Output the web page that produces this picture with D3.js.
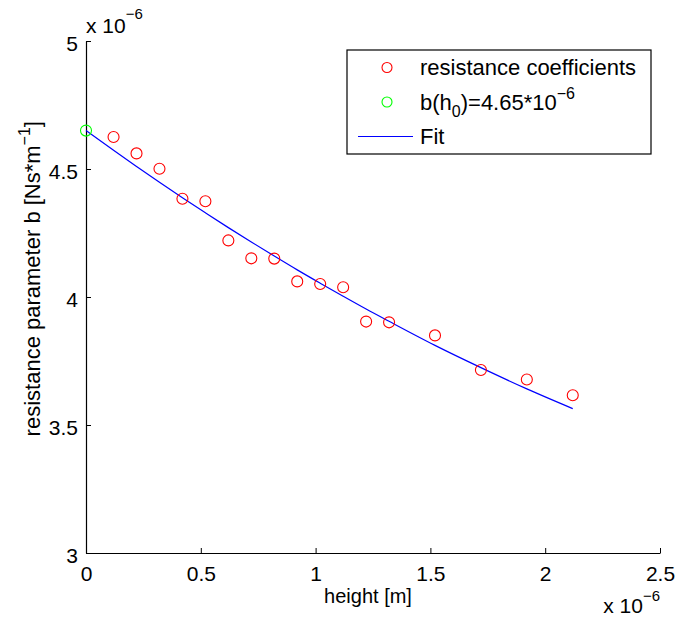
<!DOCTYPE html>
<html>
<head>
<meta charset="utf-8">
<script src="https://cdn.jsdelivr.net/npm/d3@7"></script>
<style>
  body { margin: 0; background: #fff; }
  text { font-family: "Liberation Sans", Arial, sans-serif; }
</style>
</head>
<body>
<div id="chart"></div>
<script>
// measured heights (x 10^-6 m) and resistance parameter b (x 10^-6 Ns/m)
var heights = [0.12, 0.22, 0.32, 0.42, 0.52, 0.62, 0.72, 0.82, 0.92, 1.02, 1.12, 1.22, 1.32, 1.52, 1.72, 1.92, 2.12];
var bValues = [4.625, 4.561, 4.501, 4.384, 4.374, 4.221, 4.151, 4.150, 4.061, 4.051, 4.038, 3.904, 3.901, 3.850, 3.715, 3.678, 3.616];

// b(h0) point
var h0 = [0];
var b0 = [4.65];

// fit curve
var fitX = [0, 0.12, 0.22, 0.32, 0.42, 0.52, 0.62, 0.72, 0.82, 0.92, 1.02, 1.12, 1.22, 1.32, 1.52, 1.72, 1.92, 2.12];
var fitY = [4.650, 4.573, 4.510, 4.448, 4.388, 4.329, 4.271, 4.215, 4.160, 4.106, 4.054, 4.003, 3.953, 3.905, 3.811, 3.724, 3.641, 3.564];

var xTicks = [0, 0.5, 1, 1.5, 2, 2.5];
var yTicks = [3, 3.5, 4, 4.5, 5];

var legendLabels = ["resistance coefficients", "b(h0)=4.65*10^-6", "Fit"];

// set the dimensions and margins of the graph
var margin = { top: 41, right: 16, bottom: 65, left: 86 },
    W = 676, H = 618,
    width = W - margin.left - margin.right,
    height = H - margin.top - margin.bottom;

var svg = d3.select("#chart")
    .append("svg")
    .attr("width", W)
    .attr("height", H)
    .append("g")
    .attr("transform", "translate(" + margin.left + "," + margin.top + ")");

var x = d3.scaleLinear().domain([0, 2.5]).range([0, width]);
var y = d3.scaleLinear().domain([3, 5]).range([height, 0]);

// X axis, ticks pointing inward
var xAxis = svg.append("g")
    .attr("transform", "translate(0," + height + ")")
    .call(d3.axisBottom(x).tickValues(xTicks).tickSizeInner(-5).tickSizeOuter(0).tickPadding(13)
        .tickFormat(function (d) { return d; }));

// Y axis
var yAxis = svg.append("g")
    .call(d3.axisLeft(y).tickValues(yTicks).tickSizeInner(-5).tickSizeOuter(0).tickPadding(8)
        .tickFormat(function (d) { return d; }));
yAxis.selectAll(".tick text").attr("dy", "0.46em");

[xAxis, yAxis].forEach(function (a) {
    a.select(".domain").attr("stroke", "#000").attr("stroke-width", 1.2);
    a.selectAll(".tick line").attr("stroke", "#000");
    a.selectAll(".tick text")
        .attr("fill", "#000")
        .style("font-size", "21px");
});

// exponent labels
var topExp = svg.append("text").attr("x", 0).attr("y", -8.5).style("font-size", "21px");
topExp.append("tspan").text("x 10");
topExp.append("tspan").attr("dy", -14).style("font-size", "15px").text("\u22126");

var botExp = svg.append("text").attr("x", width).attr("y", height + 60)
    .attr("text-anchor", "end").style("font-size", "21px");
botExp.append("tspan").text("x 10");
botExp.append("tspan").attr("dy", -12).style("font-size", "15px").text("\u22126");

// axis labels
svg.append("text")
    .attr("x", width / 2 - 5)
    .attr("y", height + 50)
    .attr("text-anchor", "middle")
    .style("font-size", "20px")
    .text("height [m]");

var yl = svg.append("text")
    .attr("transform", "translate(" + (-46) + "," + (121 - margin.top) + ") rotate(-90)")
    .attr("text-anchor", "end")
    .style("font-size", "22px");
yl.append("tspan").text("resistance parameter b [Ns*m");
yl.append("tspan").attr("dy", -10).style("font-size", "16px").text("\u22121");
yl.append("tspan").attr("dy", 10).text("]");

// fit line
svg.append("path")
    .datum(fitX.map(function (d, i) { return [d, fitY[i]]; }))
    .attr("fill", "none")
    .attr("stroke", "#0000ff")
    .attr("stroke-width", 1.2)
    .attr("d", d3.line()
        .curve(d3.curveMonotoneX)
        .x(function (d) { return x(d[0]); })
        .y(function (d) { return y(d[1]); }));

// red circles
svg.selectAll("circle.meas")
    .data(heights.map(function (d, i) { return [d, bValues[i]]; }))
    .enter()
    .append("circle")
    .attr("class", "meas")
    .attr("cx", function (d) { return x(d[0]); })
    .attr("cy", function (d) { return y(d[1]); })
    .attr("r", 5.5)
    .attr("fill", "none")
    .attr("stroke", "#ff0000")
    .attr("stroke-width", 1.1);

// green circle
svg.selectAll("circle.h0")
    .data(h0.map(function (d, i) { return [d, b0[i]]; }))
    .enter()
    .append("circle")
    .attr("class", "h0")
    .attr("cx", function (d) { return x(d[0]); })
    .attr("cy", function (d) { return y(d[1]); })
    .attr("r", 5.5)
    .attr("fill", "none")
    .attr("stroke", "#00ff00")
    .attr("stroke-width", 1.1);

// legend
var lg = svg.append("g").attr("transform", "translate(" + (347 - margin.left) + "," + (50 - margin.top) + ")");
lg.append("rect")
    .attr("width", 304).attr("height", 104)
    .attr("fill", "#fff").attr("stroke", "#000").attr("stroke-width", 1.2);

var rowY = [17.5, 52, 86.5];
lg.append("circle").attr("cx", 40).attr("cy", rowY[0]).attr("r", 5)
    .attr("fill", "none").attr("stroke", "#ff0000").attr("stroke-width", 1.1);
lg.append("circle").attr("cx", 40).attr("cy", rowY[1]).attr("r", 5)
    .attr("fill", "none").attr("stroke", "#00ff00").attr("stroke-width", 1.1);
lg.append("line").attr("x1", 11).attr("x2", 66).attr("y1", rowY[2]).attr("y2", rowY[2])
    .attr("stroke", "#0000ff").attr("stroke-width", 1.2);

lg.append("text").attr("x", 73).attr("y", rowY[0] + 7.5).style("font-size", "22px").text(legendLabels[0]);
var t2 = lg.append("text").attr("x", 73).attr("y", rowY[1] + 7.5).style("font-size", "22px");
t2.append("tspan").text("b(h");
t2.append("tspan").attr("dy", 7).style("font-size", "16px").text("0");
t2.append("tspan").attr("dy", -7).text(")=4.65*10");
t2.append("tspan").attr("dy", -11).style("font-size", "16px").text("\u22126");
lg.append("text").attr("x", 73).attr("y", rowY[2] + 7.5).style("font-size", "22px").text(legendLabels[2]);
</script>
</body>
</html>
